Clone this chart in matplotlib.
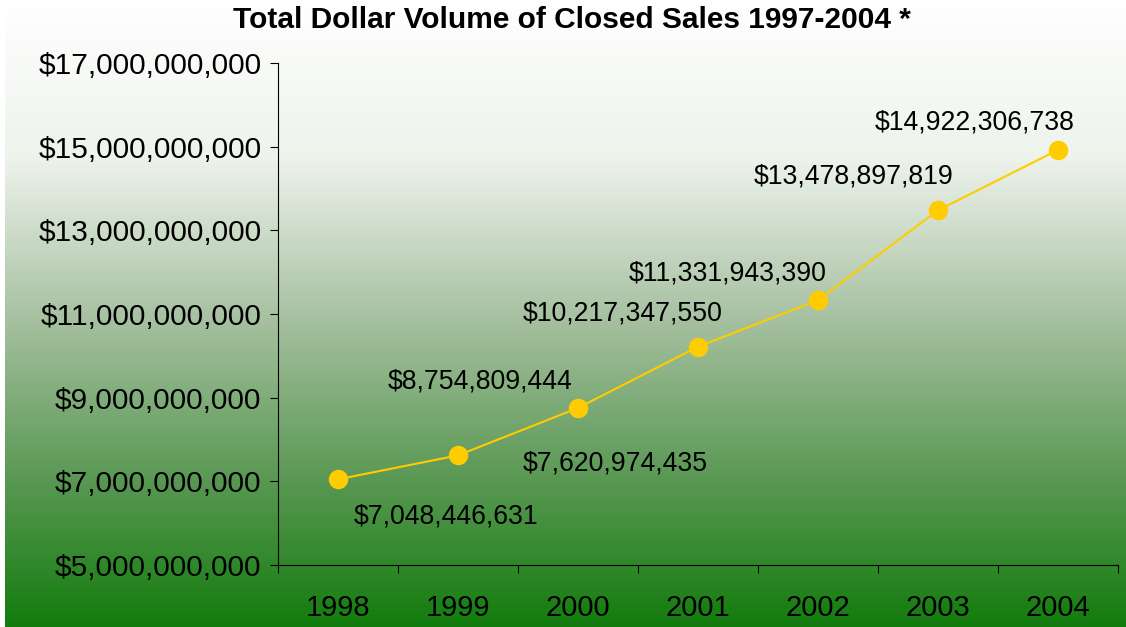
import numpy as np
import matplotlib
matplotlib.use("Agg")
import matplotlib.pyplot as plt
from matplotlib.colors import LinearSegmentedColormap
from matplotlib.ticker import FuncFormatter

plt.rcParams['font.family'] = ['Liberation Sans', 'DejaVu Sans']

years = ['1998', '1999', '2000', '2001', '2002', '2003', '2004']
volume = [7048446631, 7620974435, 8754809444, 10217347550,
          11331943390, 13478897819, 14922306738]
# Excel-style data labels: text and the point it hangs from (as in the original)
label_text = ['$7,048,446,631', '$7,620,974,435', '$8,754,809,444',
              '$10,217,347,550', '$11,331,943,390', '$13,478,897,819',
              '$14,922,306,738']
label_idx = [0, 1, 2, 3, 4, 5, 6]
# offsets in pixels (dx, dy) from each point
label_off = [(108, -37), (157, -8), (-98, 26), (-75, 33), (-90, 27), (-84, 34), (-83, 27)]

fig = plt.figure(figsize=(11.26, 6.27), dpi=100)
fig.patch.set_facecolor('white')

# gradient background white -> green (small white strip on the left)
bg = fig.add_axes([5 / 1126, 0, 1 - 5 / 1126, 1], zorder=-10)
cmap = LinearSegmentedColormap.from_list('g', ['#ffffff', '#eef3ec', '#a9c2a3', '#5e9a58', '#137c0d'])
grad = np.linspace(0, 1, 256).reshape(-1, 1)
bg.imshow(grad, aspect='auto', cmap=cmap, extent=[0, 1, 0, 1], origin='upper')
bg.set_axis_off()

ax = fig.add_axes([278 / 1126, 1 - 565 / 627, 840 / 1126, 502 / 627])
ax.patch.set_alpha(0)

x = np.arange(len(years))
ax.plot(x, volume, color='#ffcc00', lw=1.5, marker='o', ms=13, mec='#ffcc00', mfc='#ffcc00', zorder=3)

for i, t, (dx, dy) in zip(label_idx, label_text, label_off):
    ax.annotate(t, (x[i], volume[i]), xytext=(dx * 0.72, dy * 0.72), textcoords='offset points',
                ha='center', va='center', fontsize=19.2)

ax.set_xlim(-0.5, len(years) - 0.5)
ax.set_ylim(5e9, 17e9)
ax.set_yticks(np.arange(5e9, 17.1e9, 2e9))
ax.yaxis.set_major_formatter(FuncFormatter(lambda v, p: '${:,.0f}'.format(v)))
ax.set_xticks(x)
ax.set_xticklabels(years)
ax.set_xticks(np.arange(-0.5, len(years), 1), minor=True)
ax.tick_params(axis='x', which='major', length=0, labelsize=21, pad=21)
ax.tick_params(axis='x', which='minor', length=6, direction='out', width=0.8)
ax.tick_params(axis='y', length=6, direction='out', width=0.8, labelsize=21.5, pad=6)

for s in ['top', 'right']:
    ax.spines[s].set_visible(False)
for s in ['left', 'bottom']:
    ax.spines[s].set_linewidth(0.8)

fig.text(572 / 1126, 1 - 20 / 627, 'Total Dollar Volume of Closed Sales 1997-2004 *',
         ha='center', va='center', fontsize=21.5, fontweight='bold')

fig.savefig('out.png', dpi=100)
